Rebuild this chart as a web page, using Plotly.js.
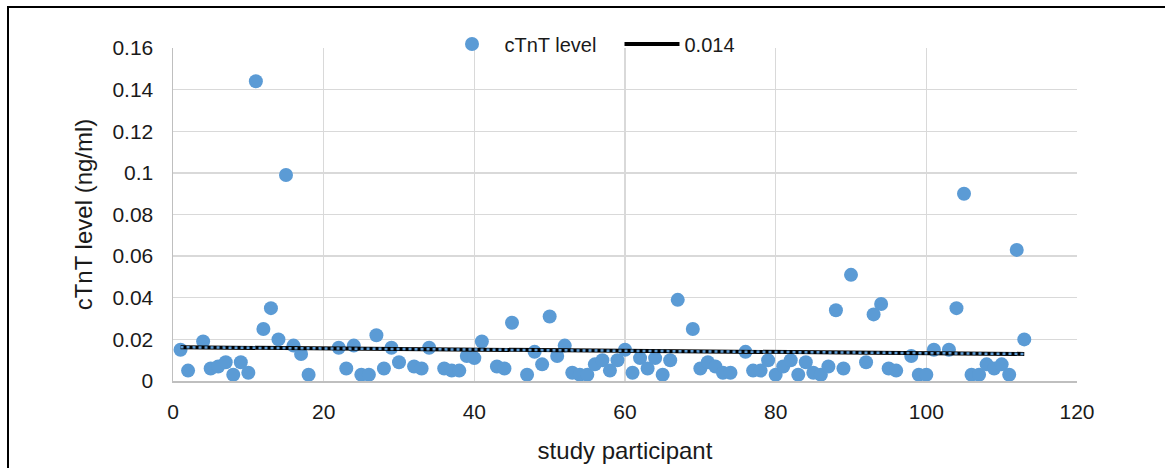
<!DOCTYPE html>
<html>
<head>
<meta charset="utf-8">
<script src="https://cdn.plot.ly/plotly-3.0.1.min.js"></script>
<style>
  html, body { margin: 0; padding: 0; background: #fff; }
  #wrap { position: relative; width: 1165px; height: 468px; overflow: hidden; }
  #chart { position: absolute; left: 0; top: 0; width: 1165px; height: 468px; }
  #frame { position: absolute; left: 7px; top: 6px; width: 1300px; height: 600px;
           border-left: 2px solid #000; border-top: 2px solid #000; pointer-events: none; }
</style>
</head>
<body>
<div id="wrap">
  <div id="chart"></div>
  <div id="frame"></div>
</div>
<script>
// study participant numbers
const participants = [1,2,4,5,6,7,8,9,10,11,12,13,14,15,16,17,18,22,23,24,25,26,27,28,29,30,
  32,33,34,36,37,38,39,40,41,43,44,45,47,48,49,50,51,52,53,54,55,56,57,58,59,60,
  61,62,63,64,65,66,67,69,70,71,72,73,74,76,77,78,79,80,81,82,83,84,85,86,87,88,89,90,
  92,93,94,95,96,98,99,100,101,103,104,105,106,107,108,109,110,111,112,113];

// cTnT level (ng/ml)
const ctntLevel = [0.015,0.005,0.019,0.006,0.007,0.009,0.003,0.009,0.004,0.144,0.025,0.035,0.020,0.099,0.017,0.013,0.003,
  0.016,0.006,0.017,0.003,0.003,0.022,0.006,0.016,0.009,
  0.007,0.006,0.016,0.006,0.005,0.005,0.012,0.011,0.019,0.007,0.006,0.028,0.003,0.014,0.008,0.031,0.012,0.017,0.004,0.003,0.003,0.008,0.010,0.005,0.010,0.015,
  0.004,0.011,0.006,0.011,0.003,0.010,0.039,0.025,0.006,0.009,0.007,0.004,0.004,0.014,0.005,0.005,0.010,0.003,0.007,0.010,0.003,0.009,0.004,0.003,0.007,0.034,0.006,0.051,
  0.009,0.032,0.037,0.006,0.005,0.012,0.003,0.003,0.015,0.015,0.035,0.090,0.003,0.003,0.008,0.006,0.008,0.003,0.063,0.020];

// trend line end points
const trendX = [1, 113];
const trendY = [0.0162, 0.0130];

const xTickVals = [0, 20, 40, 60, 80, 100, 120];
const yTickVals = [0, 0.02, 0.04, 0.06, 0.08, 0.1, 0.12, 0.14, 0.16];
const yTickText = ['0', '0.02', '0.04', '0.06', '0.08', '0.1', '0.12', '0.14', '0.16'];

const FONT = 'Liberation Sans, Arial, sans-serif';

const traces = [
  {
    x: participants, y: ctntLevel, type: 'scatter', mode: 'markers',
    name: 'cTnT level',
    marker: { color: '#5B9BD5', size: 14 },
    cliponaxis: false
  },
  {
    x: trendX, y: trendY, type: 'scatter', mode: 'lines',
    name: '0.014',
    line: { color: '#000000', width: 4 }
  },
  {
    x: trendX, y: trendY, type: 'scatter', mode: 'lines',
    name: 'trend', showlegend: false,
    line: { color: '#5B9BD5', width: 2.5, dash: 'dot' }
  }
];

const layout = {
  width: 1165, height: 468,
  margin: { l: 173, r: 88, t: 48, b: 87 },
  paper_bgcolor: '#ffffff', plot_bgcolor: '#ffffff',
  font: { family: FONT, size: 21, color: '#1a1a1a' },
  showlegend: true,
  legend: {
    orientation: 'h', x: 0.2948, xanchor: 'left', y: 1.012, yanchor: 'middle',
    bgcolor: 'rgba(0,0,0,0)', font: { family: FONT, size: 20, color: '#1a1a1a' },
    traceorder: 'normal', itemwidth: 55, entrywidth: 110
  },
  xaxis: {
    range: [0, 120], tickvals: xTickVals, ticks: '',
    tickfont: { family: FONT, size: 21, color: '#1a1a1a' },
    showgrid: true, gridcolor: '#d9d9d9', gridwidth: 1.3,
    showline: true, linecolor: '#bfbfbf', linewidth: 1.5,
    zeroline: false, ticklabelstandoff: 11,
    title: { text: 'study participant', font: { family: FONT, size: 24, color: '#1a1a1a' }, standoff: 20 }
  },
  yaxis: {
    range: [0, 0.16], tickvals: yTickVals, ticktext: yTickText, ticks: '',
    tickfont: { family: FONT, size: 21, color: '#1a1a1a' },
    showgrid: true, gridcolor: '#d9d9d9', gridwidth: 1.3,
    showline: true, linecolor: '#bfbfbf', linewidth: 1.5,
    zeroline: false, ticklabelstandoff: 14,
    title: { text: 'cTnT level (ng/ml)', font: { family: FONT, size: 24, color: '#1a1a1a' }, standoff: 13 }
  }
};

Plotly.newPlot('chart', traces, layout, { displayModeBar: false, staticPlot: true });
</script>
</body>
</html>
